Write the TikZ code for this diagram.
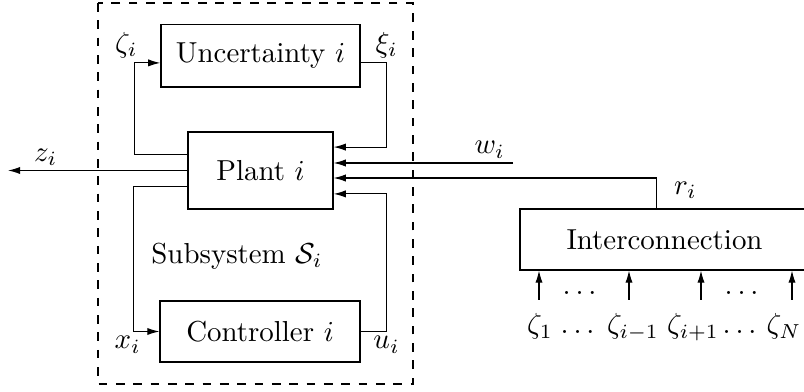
\documentclass[tikz,border=0pt]{standalone}
\usepackage{amsmath}
\usepackage{amsfonts}
\usepackage{tikz}
\usetikzlibrary{arrows.meta}

\begin{document}
\begin{tikzpicture}[
    x=0.346pt, y=-0.346pt,
    block/.style={draw, rectangle, align=center, inner sep=0pt},
    lbl/.style={inner sep=1.5pt},
    sig/.style={-{Latex[length=4.2pt, width=2.5pt]}}
    ]
    \useasboundingbox (0,0) rectangle (804,392);

    % Блоки
    \node (unc) [block, minimum width=68.9pt, minimum height=21.5pt] at (260.5,56) {Uncertainty $i$};
    \node (plant) [block, minimum width=50.2pt, minimum height=26.6pt] at (260.5,170.5) {Plant $i$};
    \node (ctrl) [block, minimum width=69.2pt, minimum height=21.1pt] at (260,331.5) {Controller $i$};
    \node (ic) [block, minimum width=100pt, minimum height=21.1pt] at (664.5,239.5) {Interconnection};
    \node (sub) at (237,256) {Subsystem $\mathcal{S}_i$};
    \draw[dashed] (98,3) rectangle (413,384);

    % Входи та виходи
    \coordinate (zout) at (8,170.5);
    \coordinate (win) at (513,163);
    \coordinate (in1) at (539,300);
    \coordinate (in2) at (629,300);
    \coordinate (in3) at (701,300);
    \coordinate (in4) at (792,300);

    % Зв'язки
    \draw[sig] ([yshift=5.4pt]plant.west) -- ++(-53,0) |- (unc.base west) node[pos=0.5, above, lbl, xshift=-2.8pt] (zetalbl) {$\zeta_i$};
    \draw[sig] (unc.base east) -- ++(26,0) node[above, lbl] (xilbl) {$\xi_i$} |- ([yshift=8.1pt]plant.east);
    \draw[sig] (plant.west) -- (zout) node[pos=0.79, above, lbl] (zlbl) {$z_i$};
    \draw[sig] (win) -- (win -| plant.east) node[pos=0.13, above, lbl] (wlbl) {$w_i$};
    \draw[sig] ([xshift=-2.9pt]ic.north) |- ([yshift=-2.6pt]plant.east) node[pos=0.3, right, lbl, xshift=4.5pt] (rlbl) {$r_i$};
    \draw[sig] (ctrl.east) -- ++(26,0) node[below, lbl] (ulbl) {$u_i$} |- ([yshift=-8.1pt]plant.east);
    \draw[sig] ([yshift=-5.4pt]plant.west) -- ++(-54,0) |- (ctrl.west) node[pos=0.5, below, lbl, xshift=-2pt] (xlbl) {$x_i$};
    \foreach \k in {1,...,4}
        \draw[sig] (in\k) -- (in\k |- ic.south);

    % Підписи знизу
    \node[anchor=base] (dotsa) at (582,295) {$\dots$};
    \node[anchor=base] (dotsb) at (744,295) {$\dots$};
    \node[anchor=base] (zeta1) at (540,334) {$\zeta_1$};
    \node[anchor=base] (dotsc) at (580,334) {$\dots$};
    \node[anchor=base] (zetaim) at (633,334) {$\zeta_{i-1}$};
    \node[anchor=base] (zetaip) at (693,334) {$\zeta_{i+1}$};
    \node[anchor=base] (dotsd) at (742,334) {$\dots$};
    \node[anchor=base] (zetaN) at (784,334) {$\zeta_N$};

\end{tikzpicture}
\end{document}
